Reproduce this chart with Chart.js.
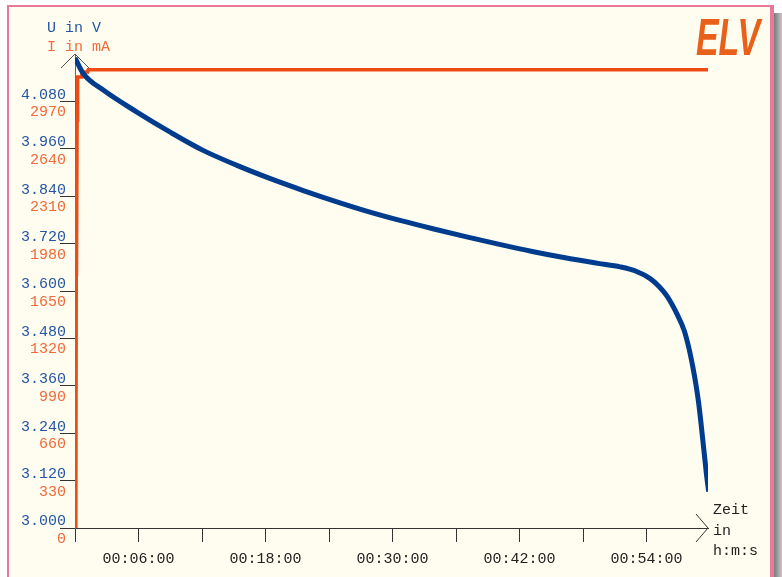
<!DOCTYPE html>
<html>
<head>
<meta charset="utf-8">
<script src="https://cdn.jsdelivr.net/npm/chart.js@4/dist/chart.umd.min.js"></script>
<style>
    html, body { margin: 0; padding: 0; background: #ffffff; }
    #wrap { width: 782px; height: 577px; }
</style>
</head>
<body>
<div id="wrap"><canvas id="chart" width="782" height="577"></canvas></div>
<script>
// Entladekurve: Spannung (V) und Strom (mA) ueber der Zeit in Minuten
const voltTime = [0, 0.8, 2.7, 5.85, 9.0, 12.1, 15.3, 18.4, 21.5, 24.6, 27.7, 30.8, 33.9, 37.0, 40.1,
    43.2, 46.3, 49.4, 51.5, 53.0, 54.3, 55.2, 55.9, 56.9, 57.55, 58.0, 58.35, 58.65, 58.9, 59.1,
    59.3, 59.5, 59.68, 59.87];
const voltage = [4.19, 4.150, 4.108, 4.053, 4.002, 3.956, 3.918, 3.885, 3.855, 3.827, 3.801, 3.778, 3.757, 3.737, 3.718,
    3.700, 3.684, 3.670, 3.661, 3.650, 3.632, 3.611, 3.588, 3.540, 3.500, 3.455, 3.410, 3.365, 3.320, 3.275,
    3.225, 3.175, 3.130, 3.092];

const currentTime = [0.08, 0.12, 0.14, 0.2, 0.25, 0.6, 0.65, 1.2, 1.25, 59.9];
const current = [0, 1770, 1780, 2840, 3140, 3140, 3175, 3175, 3191, 3191];

const xTicks = [0, 6, 12, 18, 24, 30, 36, 42, 48, 54];
const xTickLabels = ['', '00:06:00', '', '00:18:00', '', '00:30:00', '', '00:42:00', '', '00:54:00'];
const voltTicks = [3.0, 3.12, 3.24, 3.36, 3.48, 3.6, 3.72, 3.84, 3.96, 4.08];
const currentTicks = [0, 330, 660, 990, 1320, 1650, 1980, 2310, 2640, 2970];

const monoFont = { family: "'Liberation Mono', 'DejaVu Sans Mono', monospace", size: 15 };
const BLUE_LINE = '#003c8e';
const BLUE_TEXT = '#2456a4';
const ORANGE_LINE = '#ee4c16';
const ORANGE_TEXT = '#f2693a';

// frame, background, arrows and the extra texts
const decoPlugin = {
    id: 'deco',
    beforeDraw(chart) {
        const ctx = chart.ctx;
        ctx.save();
        ctx.fillStyle = '#ffffff';
        ctx.fillRect(0, 0, 782, 577);
        // shadow right
        const grad = ctx.createLinearGradient(774, 0, 782, 0);
        grad.addColorStop(0, '#7a7a7a');
        grad.addColorStop(1, '#c8c8c8');
        ctx.fillStyle = grad;
        ctx.fillRect(774, 13, 8, 564);
        // pink frame
        ctx.fillStyle = '#e8799a';
        ctx.fillRect(7, 5, 767, 572);
        ctx.fillStyle = '#fffdf0';
        ctx.fillRect(9, 7, 761, 570);
        ctx.restore();
    },
    afterDraw(chart) {
        const ctx = chart.ctx;
        const x = chart.scales.x;
        const y = chart.scales.y;
        const x0 = x.getPixelForValue(0);
        const top = y.top;
        const bottom = y.getPixelForValue(3.0);
        const right = x.right;
        ctx.save();
        ctx.lineWidth = 1;
        ctx.strokeStyle = '#555555';
        ctx.beginPath();
        ctx.moveTo(x0 - 14, top + 14);
        ctx.lineTo(x0, top);
        ctx.lineTo(x0 + 14, top + 14);
        ctx.stroke();
        ctx.strokeStyle = '#333333';
        ctx.beginPath();
        ctx.moveTo(right - 12, bottom - 14);
        ctx.lineTo(right, bottom);
        ctx.lineTo(right - 12, bottom + 14);
        ctx.stroke();

        ctx.font = "15px 'Liberation Mono', monospace";
        ctx.textBaseline = 'middle';
        ctx.textAlign = 'left';
        ctx.fillStyle = BLUE_TEXT;
        ctx.fillText('U in V', 47, 28);
        ctx.fillStyle = ORANGE_TEXT;
        ctx.fillText('I in mA', 47, 47);
        ctx.fillStyle = '#222222';
        ctx.fillText('Zeit', right + 5, bottom - 18);
        ctx.fillText('in', right + 5, bottom + 3);
        ctx.fillText('h:m:s', right + 5, bottom + 23);

        // ELV logo
        ctx.font = "italic bold 52px 'Liberation Sans', sans-serif";
        const w = ctx.measureText('ELV').width;
        ctx.translate(696, 55);
        ctx.scale(64 / w, 1);
        ctx.textBaseline = 'alphabetic';
        ctx.fillStyle = '#e8601a';
        ctx.fillText('ELV', 0, 0);
        ctx.restore();
    }
};

new Chart(document.getElementById('chart').getContext('2d'), {
    type: 'line',
    data: {
        datasets: [
            {
                label: 'U in V',
                data: voltTime.map((t, i) => ({ x: t, y: voltage[i] })),
                yAxisID: 'y',
                borderColor: BLUE_LINE,
                borderWidth: 5,
                pointRadius: 0,
                cubicInterpolationMode: 'monotone',
                fill: false
            },
            {
                label: 'I in mA',
                data: currentTime.map((t, i) => ({ x: t, y: current[i] })),
                yAxisID: 'y1',
                borderColor: ORANGE_LINE,
                borderWidth: 3.5,
                pointRadius: 0,
                tension: 0,
                fill: false
            }
        ]
    },
    options: {
        responsive: false,
        animation: false,
        events: [],
        layout: { padding: { left: 0, right: 74, top: 54, bottom: 0 } },
        plugins: {
            legend: { display: false },
            tooltip: { enabled: false }
        },
        scales: {
            x: {
                type: 'linear',
                min: 0,
                max: 59.8,
                afterBuildTicks: s => { s.ticks = xTicks.map(v => ({ value: v })); },
                afterFit: s => { s.height = 49; },
                grid: { drawOnChartArea: false, drawTicks: true, tickLength: 14, color: '#333333' },
                border: { color: '#333333', width: 1 },
                ticks: {
                    font: monoFont,
                    color: '#222222',
                    padding: 8,
                    maxRotation: 0,
                    autoSkip: false,
                    callback: (v, i) => xTickLabels[i]
                }
            },
            y: {
                position: 'left',
                weight: 1,
                min: 3.0,
                max: 4.2,
                afterBuildTicks: s => { s.ticks = voltTicks.map(v => ({ value: v })); },
                afterFit: s => { s.width = 75; },
                grid: { drawOnChartArea: false, drawTicks: true, tickLength: 15, color: '#333333' },
                border: { color: '#666666', width: 1 },
                ticks: {
                    font: monoFont,
                    color: BLUE_TEXT,
                    padding: -6,
                    labelOffset: -6.5,
                    autoSkip: false,
                    callback: v => v.toFixed(3)
                }
            },
            // current labels share the left edge of the plot, right-aligned under the voltage labels
            y1: {
                position: 'left',
                weight: 0,
                min: 0,
                max: 3300,
                afterBuildTicks: s => { s.ticks = currentTicks.map(v => ({ value: v })); },
                afterFit: s => { s.width = 0; },
                grid: { display: false, drawTicks: false },
                border: { display: false },
                ticks: {
                    font: monoFont,
                    color: ORANGE_TEXT,
                    mirror: true,
                    crossAlign: 'far',
                    padding: -45,
                    labelOffset: 11,
                    autoSkip: false,
                    callback: v => String(v)
                }
            }
        }
    },
    plugins: [decoPlugin]
});
</script>
</body>
</html>
